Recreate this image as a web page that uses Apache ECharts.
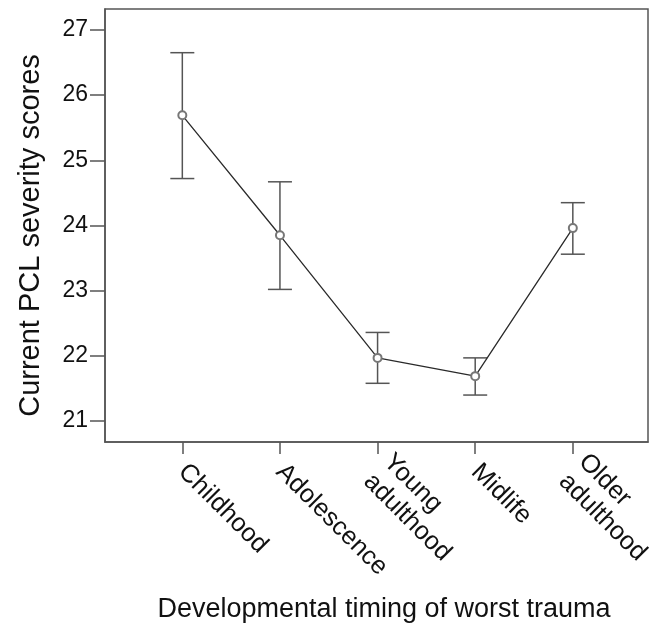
<!DOCTYPE html>
<html>
<head>
<meta charset="utf-8">
<script src="https://cdn.jsdelivr.net/npm/echarts@6/dist/echarts.min.js"></script>
<style>html,body{margin:0;padding:0;background:#fff}#c{width:653px;height:628px}</style>
</head>
<body>
<div id="c"></div>
<script>
const categories = ['Childhood', 'Adolescence', 'Young\nadulthood', 'Midlife', 'Older\nadulthood'];
const means = [25.69, 23.85, 21.97, 21.69, 23.96];
const lowerCI = [24.72, 23.02, 21.58, 21.40, 23.56];
const upperCI = [26.65, 24.67, 22.36, 21.97, 24.35];
const yTicks = [21, 22, 23, 24, 25, 26, 27];
const xTicks = [0, 1, 2, 3, 4];

const font = 'Liberation Sans, Arial, sans-serif';
const axisColor = '#555';
const textColor = '#111';

const chart = echarts.init(document.getElementById('c'), null, {renderer: 'canvas'});
chart.setOption({
  animation: false,
  backgroundColor: '#fff',
  grid: {left: 105, right: 5, top: 9, bottom: 186, containLabel: false, outerBoundsMode: 'none',
    show: true, borderColor: axisColor, borderWidth: 1.5, backgroundColor: 'transparent'},
  xAxis: {
    type: 'value', min: -0.792, max: 4.77,
    name: 'Developmental timing of worst trauma', nameLocation: 'middle', nameGap: 154,
    nameTextStyle: {fontFamily: font, fontSize: 27, color: textColor, padding: [0, 0, 0, 15]},
    axisLine: {show: true, onZero: false, lineStyle: {color: axisColor, width: 1.5}},
    axisTick: {show: true, length: 12, customValues: xTicks, lineStyle: {color: axisColor, width: 1.5}},
    axisLabel: {customValues: xTicks, rotate: -45, margin: 26, fontFamily: font, fontSize: 25.5, color: textColor, lineHeight: 28,
      formatter: v => categories[Math.round(v)]},
    splitLine: {show: false}
  },
  yAxis: {
    type: 'value', min: 20.68, max: 27.32,
    name: 'Current PCL severity scores', nameLocation: 'middle', nameGap: 60,
    nameTextStyle: {fontFamily: font, fontSize: 29, color: textColor, padding: [0, 20, 0, 0]},
    axisLine: {show: true, onZero: false, lineStyle: {color: axisColor, width: 1.5}},
    axisTick: {show: true, length: 15, customValues: yTicks, lineStyle: {color: axisColor, width: 1.5}},
    axisLabel: {customValues: yTicks, margin: 17, fontFamily: font, fontSize: 23, color: textColor},
    splitLine: {show: false}
  },
  series: [
    {
      type: 'custom',
      data: xTicks.map((x, i) => [x, lowerCI[i], upperCI[i]]),
      renderItem: function (params, api) {
        const x = api.value(0);
        const pHi = api.coord([x, api.value(2)]);
        const pLo = api.coord([x, api.value(1)]);
        const hw = 12;
        const st = {stroke: '#555', lineWidth: 1.5};
        return {type: 'group', children: [
          {type: 'line', shape: {x1: pHi[0], y1: pHi[1], x2: pLo[0], y2: pLo[1]}, style: st},
          {type: 'line', shape: {x1: pHi[0] - hw, y1: pHi[1], x2: pHi[0] + hw, y2: pHi[1]}, style: st},
          {type: 'line', shape: {x1: pLo[0] - hw, y1: pLo[1], x2: pLo[0] + hw, y2: pLo[1]}, style: st}
        ]};
      },
      z: 2
    },
    {
      type: 'line',
      data: xTicks.map((x, i) => [x, means[i]]),
      symbol: 'emptyCircle', symbolSize: 8,
      lineStyle: {color: '#2a2a2a', width: 1.3},
      itemStyle: {color: '#777', borderColor: '#666', borderWidth: 1.3},
      z: 3
    }
  ]
});
</script>
</body>
</html>
